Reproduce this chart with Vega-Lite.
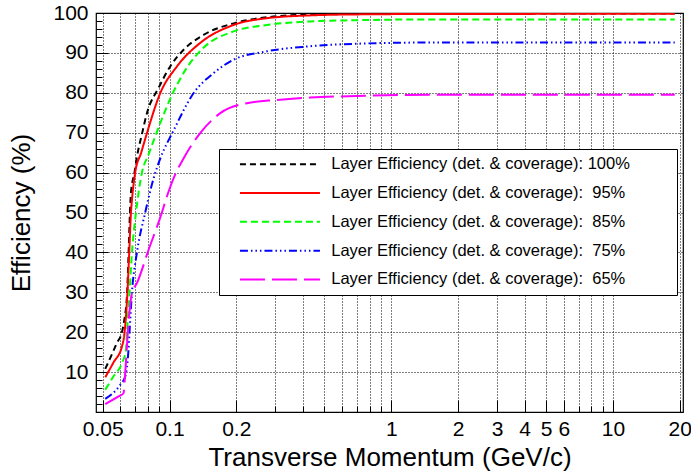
{
  "$schema": "https://vega.github.io/schema/vega-lite/v6.json",
  "autosize": {"type": "none"},
  "padding": {"left": 96, "top": 13, "right": 8, "bottom": 63},
  "width": 587,
  "height": 399,
  "data": {"values": [
    {"s":"100","x":0.0513,"y":10.8},{"s":"100","x":0.0545,"y":14},{"s":"100","x":0.0579,"y":17.3},{"s":"100","x":0.061,"y":20},{"s":"100","x":0.0625,"y":23},{"s":"100","x":0.0644,"y":30},{"s":"100","x":0.0654,"y":40},{"s":"100","x":0.0663,"y":50},{"s":"100","x":0.067,"y":55},{"s":"100","x":0.0695,"y":60},{"s":"100","x":0.0713,"y":64},{"s":"100","x":0.075,"y":69.5},{"s":"100","x":0.0791,"y":74.9},{"s":"100","x":0.0892,"y":81.2},{"s":"100","x":0.1007,"y":86.6},{"s":"100","x":0.1158,"y":90.8},{"s":"100","x":0.1423,"y":94.5},{"s":"100","x":0.201,"y":97.6},{"s":"100","x":0.294,"y":99.1},{"s":"100","x":0.43,"y":99.6},{"s":"100","x":0.7,"y":99.8},{"s":"100","x":1.5,"y":99.9},{"s":"100","x":19,"y":99.9},
    {"s":"95","x":0.0513,"y":8.7},{"s":"95","x":0.056,"y":12.5},{"s":"95","x":0.061,"y":16.4},{"s":"95","x":0.0627,"y":20},{"s":"95","x":0.0646,"y":30},{"s":"95","x":0.0658,"y":40},{"s":"95","x":0.067,"y":50},{"s":"95","x":0.0677,"y":53.2},{"s":"95","x":0.07,"y":60},{"s":"95","x":0.0745,"y":65},{"s":"95","x":0.0791,"y":69.9},{"s":"95","x":0.0908,"y":79.9},{"s":"95","x":0.108,"y":86.6},{"s":"95","x":0.1375,"y":92.5},{"s":"95","x":0.1945,"y":97.0},{"s":"95","x":0.275,"y":98.7},{"s":"95","x":0.431,"y":99.4},{"s":"95","x":0.7,"y":99.65},{"s":"95","x":1.5,"y":99.75},{"s":"95","x":19,"y":99.8},
    {"s":"85","x":0.0513,"y":5.6},{"s":"85","x":0.056,"y":9},{"s":"85","x":0.061,"y":12.2},{"s":"85","x":0.0636,"y":15.6},{"s":"85","x":0.0643,"y":20},{"s":"85","x":0.066,"y":30},{"s":"85","x":0.0677,"y":40},{"s":"85","x":0.0706,"y":50},{"s":"85","x":0.0751,"y":60},{"s":"85","x":0.0804,"y":64.5},{"s":"85","x":0.0908,"y":72.4},{"s":"85","x":0.1007,"y":78.5},{"s":"85","x":0.1198,"y":86.3},{"s":"85","x":0.1423,"y":91.3},{"s":"85","x":0.1945,"y":95.4},{"s":"85","x":0.275,"y":97},{"s":"85","x":0.431,"y":97.9},{"s":"85","x":0.7,"y":98.2},{"s":"85","x":1.5,"y":98.4},{"s":"85","x":19,"y":98.4},
    {"s":"75","x":0.0513,"y":3.3},{"s":"75","x":0.0599,"y":6.8},{"s":"75","x":0.0631,"y":8.9},{"s":"75","x":0.0653,"y":15.6},{"s":"75","x":0.066,"y":20},{"s":"75","x":0.0677,"y":30},{"s":"75","x":0.0713,"y":40},{"s":"75","x":0.0777,"y":50},{"s":"75","x":0.0847,"y":58.5},{"s":"75","x":0.0908,"y":63.5},{"s":"75","x":0.1042,"y":70.5},{"s":"75","x":0.1283,"y":79.9},{"s":"75","x":0.1578,"y":84.9},{"s":"75","x":0.1945,"y":88.3},{"s":"75","x":0.275,"y":90.4},{"s":"75","x":0.417,"y":91.6},{"s":"75","x":0.7,"y":92.3},{"s":"75","x":1.5,"y":92.6},{"s":"75","x":19,"y":92.6},
    {"s":"65","x":0.0513,"y":2.0},{"s":"65","x":0.0589,"y":3.9},{"s":"65","x":0.062,"y":4.7},{"s":"65","x":0.0631,"y":9.7},{"s":"65","x":0.0653,"y":22.3},{"s":"65","x":0.0677,"y":29.8},{"s":"65","x":0.0713,"y":32.3},{"s":"65","x":0.0804,"y":40.6},{"s":"65","x":0.0924,"y":50},{"s":"65","x":0.0973,"y":54},{"s":"65","x":0.106,"y":59.5},{"s":"65","x":0.1158,"y":63.6},{"s":"65","x":0.1375,"y":69.9},{"s":"65","x":0.1694,"y":74.9},{"s":"65","x":0.2232,"y":77.4},{"s":"65","x":0.305,"y":78.2},{"s":"65","x":0.431,"y":78.8},{"s":"65","x":0.7,"y":79.2},{"s":"65","x":1.5,"y":79.5},{"s":"65","x":19,"y":79.5}
  ]},
  "mark": {"type": "line", "strokeWidth": 2, "interpolate": "monotone", "clip": true},
  "encoding": {
    "x": {
      "field": "x", "type": "quantitative",
      "scale": {"type": "log", "domain": [0.0466, 20.7], "nice": false},
      "axis": {
        "title": "Transverse Momentum (GeV/c)",
        "values": [0.05,0.06,0.07,0.08,0.09,0.1,0.2,0.3,0.4,0.5,0.6,0.7,0.8,0.9,1,2,3,4,5,6,7,8,9,10,20],
        "labelExpr": "indexof([0.05,0.1,0.2,1,2,3,4,5,6,10,20], datum.value) >= 0 ? format(datum.value, '~g') : ''",
        "labelOverlap": false,
        "labelFlush": false,
        "tickSize": {"condition": {"test": "indexof([0.05,0.1,0.2,1,2,3,4,5,6,10,20], datum.value) >= 0", "value": -12}, "value": -6},
        "labelPadding": 18,
        "titlePadding": -1
      }
    },
    "y": {
      "field": "y", "type": "quantitative",
      "scale": {"domain": [0, 100], "nice": false},
      "axis": {
        "title": "Efficiency (%)",
        "values": [0,2,4,6,8,10,12,14,16,18,20,22,24,26,28,30,32,34,36,38,40,42,44,46,48,50,52,54,56,58,60,62,64,66,68,70,72,74,76,78,80,82,84,86,88,90,92,94,96,98,100],
        "labelExpr": "datum.value % 10 === 0 && datum.value > 0 ? format(datum.value, 'd') : ''",
        "gridOpacity": {"condition": {"test": "datum.value % 10 === 0", "value": 1}, "value": 0},
        "tickSize": {"condition": {"test": "datum.value % 10 === 0", "value": -12}, "value": -6},
        "labelOverlap": false,
        "labelFlush": false,
        "labelPadding": 20,
        "titlePadding": 18
      }
    },
    "color": {
      "field": "s", "type": "nominal",
      "scale": {"domain": ["100","95","85","75","65"], "range": ["#000000","#ff0000","#00ff00","#0000ff","#ff00ff"]},
      "legend": {"labelExpr": "'Layer Efficiency (det. & coverage): ' + (datum.value == '100' ? '' : '\u00a0') + datum.value + '%'"}
    },
    "strokeDash": {
      "field": "s", "type": "nominal",
      "scale": {"domain": ["100","95","85","75","65"], "range": [[6,4],[1,0],[7,4],[8,3,1.5,3,1.5,3,1.5,3],[25,7]]},
      "legend": {"labelExpr": "'Layer Efficiency (det. & coverage): ' + (datum.value == '100' ? '' : '\u00a0') + datum.value + '%'"}
    }
  },
  "config": {
    "font": "Liberation Sans",
    "background": "#ffffff",
    "view": {"stroke": "#000000", "strokeWidth": 1.2},
    "axis": {
      "domain": false,
      "tickColor": "#000000",
      "tickWidth": 1,
      "labelColor": "#000000",
      "titleColor": "#000000",
      "labelFont": "Liberation Sans",
      "titleFont": "Liberation Sans",
      "titleFontWeight": "normal",
      "labelFontSize": 21,
      "titleFontSize": 26,
      "gridColor": "#000000",
      "gridDash": [1, 2],
      "gridWidth": 1
    },
    "legend": {
      "orient": "none",
      "legendX": 123,
      "legendY": 136,
      "title": null,
      "strokeColor": "#000000",
      "fillColor": "#ffffff",
      "padding": 7,
      "symbolType": "M-20,0H20M193,0",
      "symbolSize": 16,
      "symbolStrokeWidth": 2,
      "symbolOffset": 45.7,
      "labelFont": "Liberation Sans",
      "labelFontSize": 16.5,
      "labelColor": "#000000",
      "labelOffset": 43,
      "labelLimit": 600,
      "rowPadding": 11.8
    }
  }
}
